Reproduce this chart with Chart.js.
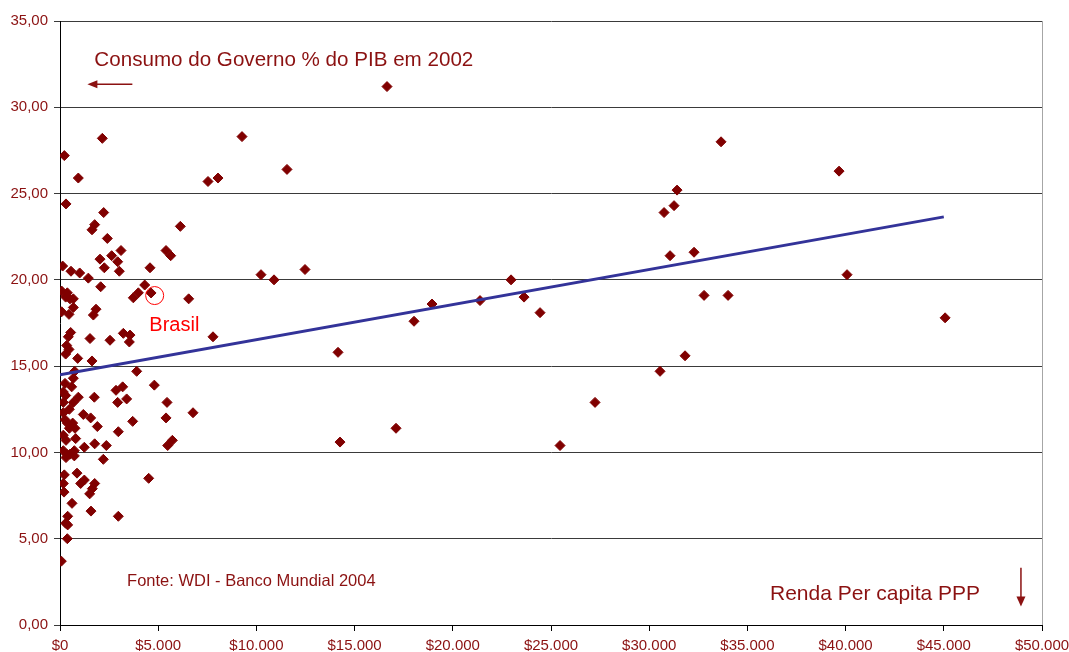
<!DOCTYPE html>
<html>
<head>
<meta charset="utf-8">
<script src="https://cdn.jsdelivr.net/npm/chart.js@4.4.0/dist/chart.umd.min.js"></script>
<style>
  html, body { margin: 0; padding: 0; background: #ffffff; overflow: hidden; }
  #wrap { width: 1069px; height: 652px; }
</style>
</head>
<body>
<div id="wrap"><canvas id="grafico" width="1069" height="652"></canvas></div>
<script>
// Renda per capita (PPP, US$) e consumo do governo (% do PIB), 2002
const rendaPerCapita = [
  220, 2155, 933, 305, 2224, 1766, 1630, 6127, 2410, 3106,
  2630, 5398, 5636, 2037, 2936, 2257, 3021, 4583, 135, 560,
  1002, 1443, 2071, 4313, 3989, 3733, 4637, 6552, 85, 373, 288,
  509, 679, 85, 458, 679, 1833, 1698, 7790, 3225, 3564,
  3530, 2546, 1528, 543, 424, 340, 458, 288, 900, 1630,
  3904, 747, 679, 255, 594, 4803, 2852, 3191, 170, 933,
  1748, 2936, 3394, 5449, 288, 170, 679, 475, 170, 1188,
  1561, 3700, 5398, 6772, 255, 373, 645, 475, 764, 1901,
  2970, 170, 305, 798, 1765, 2359, 1239, 5483, 5721, 170,
  340, 730, 509, 305, 730, 2206, 220, 866, 1239, 1052,
  1766, 1646, 1510, 170, 204, 4515, 611, 1578, 2970, 390,
  288, 390, 373, 68,
  9267, 11558, 7536, 8045, 10235, 10897, 12475, 14156, 14258, 17109,
  25460, 27242, 18026, 18942, 21386, 22965, 23627, 24442, 16650,
  33658, 39667, 31418, 31265, 30756, 32283, 31062, 40073, 32793, 34015,
  31825, 30552, 45066
];
const consumoGoverno = [
  27.2, 28.2, 25.9, 24.4, 23.9, 23.2, 22.9, 23.1, 22.4, 21.7,
  21.4, 21.7, 21.4, 21.2, 21.05, 20.7, 20.5, 20.7, 20.8, 20.5,
  20.4, 20.1, 19.6, 19.7, 19.25, 18.96, 19.24, 18.9, 19.35, 19.25, 19.0,
  18.9, 18.9, 18.15, 18.0, 18.4, 18.3, 17.96, 16.7, 16.9, 16.8,
  16.4, 16.5, 16.6, 16.95, 16.7, 16.2, 15.97, 15.7, 15.45, 15.3,
  14.7, 14.7, 14.3, 14.0, 13.8, 13.9, 13.6, 13.8, 13.5, 13.2,
  13.2, 12.9, 13.1, 12.9, 13.3, 12.9, 12.9, 12.5, 12.3, 12.2,
  12.0, 11.8, 12.0, 12.3, 11.9, 11.7, 11.7, 11.4, 11.4, 11.5,
  11.2, 11.0, 10.7, 10.8, 10.5, 10.4, 10.3, 10.4, 10.7, 10.1,
  9.9, 10.1, 9.9, 9.7, 9.8, 9.6, 8.7, 8.8, 8.4, 8.2,
  8.2, 7.9, 7.6, 8.2, 7.7, 8.5, 7.05, 6.6, 6.3, 6.3,
  5.9, 5.8, 5.0, 3.7,
  28.3, 26.4, 25.7, 25.9, 20.3, 20.0, 20.6, 15.8, 10.6, 11.4,
  10.4, 12.9, 17.6, 18.6, 18.8, 20.0, 19.0, 18.1, 31.2,
  28.0, 26.3, 25.2, 24.3, 23.9, 21.6, 21.4, 20.3, 19.1, 19.1,
  15.6, 14.7, 17.8
];

// Brasil (destaque)
const brasilRenda = [4820];
const brasilConsumo = [19.09];

// Linha de tendência linear
const tendenciaRenda = [0, 45000];
const tendenciaConsumo = [14.5, 23.65];

// Rótulos dos eixos
const xTickLabels = ['$0', '$5.000', '$10.000', '$15.000', '$20.000', '$25.000',
                     '$30.000', '$35.000', '$40.000', '$45.000', '$50.000'];
const yTickLabels = ['0,00', '5,00', '10,00', '15,00', '20,00', '25,00', '30,00', '35,00'];

const corTexto = '#8b1111';
const corPonto = '#800000';
const fonte = '"Liberation Sans", Arial, sans-serif';

const pontos = rendaPerCapita.map((x, i) => ({ x, y: consumoGoverno[i] }));
const brasil = brasilRenda.map((x, i) => ({ x, y: brasilConsumo[i] }));
const tendencia = tendenciaRenda.map((x, i) => ({ x, y: tendenciaConsumo[i] }));

// Textos, setas e moldura direita
const anotacoes = {
  id: 'anotacoes',
  afterDraw(chart) {
    const { ctx, chartArea, scales } = chart;
    const px = v => scales.x.getPixelForValue(v);
    const py = v => scales.y.getPixelForValue(v);
    ctx.save();

    // moldura à direita da área do gráfico
    ctx.strokeStyle = '#a6a6a6';
    ctx.lineWidth = 1;
    ctx.beginPath();
    ctx.moveTo(Math.round(chartArea.right) + 0.5, chartArea.top);
    ctx.lineTo(Math.round(chartArea.right) + 0.5, chartArea.bottom);
    ctx.stroke();

    ctx.fillStyle = corTexto;
    ctx.textBaseline = 'alphabetic';
    ctx.textAlign = 'left';

    ctx.font = '20.6px ' + fonte;
    ctx.fillText('Consumo do Governo % do PIB em 2002', px(1750), py(32.39));

    ctx.font = '16.5px ' + fonte;
    ctx.fillText('Fonte: WDI - Banco Mundial 2004', px(3415), py(2.235));

    ctx.font = '21px ' + fonte;
    ctx.fillText('Renda Per capita PPP', px(36150), py(1.465));

    ctx.fillStyle = '#ff0000';
    ctx.font = '20px ' + fonte;
    ctx.fillText('Brasil', px(4550), py(17.04));

    // seta para a esquerda (eixo vertical)
    ctx.strokeStyle = corTexto;
    ctx.fillStyle = corTexto;
    ctx.lineWidth = 1.5;
    const ay = py(31.33);
    const ax0 = px(3684), ax1 = px(1394);
    ctx.beginPath();
    ctx.moveTo(ax0, ay);
    ctx.lineTo(ax1 + 8, ay);
    ctx.stroke();
    ctx.beginPath();
    ctx.moveTo(ax1, ay);
    ctx.lineTo(ax1 + 10, ay - 4);
    ctx.lineTo(ax1 + 10, ay + 4);
    ctx.closePath();
    ctx.fill();

    // seta para baixo (eixo horizontal)
    const bx = px(48928);
    const by0 = py(3.318), by1 = py(1.077);
    ctx.beginPath();
    ctx.moveTo(bx, by0);
    ctx.lineTo(bx, by1 - 8);
    ctx.stroke();
    ctx.beginPath();
    ctx.moveTo(bx, by1);
    ctx.lineTo(bx - 4.5, by1 - 10);
    ctx.lineTo(bx + 4.5, by1 - 10);
    ctx.closePath();
    ctx.fill();

    ctx.restore();
  }
};

new Chart(document.getElementById('grafico'), {
  type: 'scatter',
  data: {
    datasets: [
      {
        label: 'Tendência',
        data: tendencia,
        showLine: true,
        borderColor: '#333399',
        borderWidth: 3,
        pointRadius: 0,
        fill: false,
        order: 0
      },
      {
        label: 'Brasil',
        data: brasil,
        pointStyle: 'circle',
        pointRadius: 9,
        backgroundColor: 'rgba(0,0,0,0)',
        borderColor: '#ff0000',
        borderWidth: 1,
        order: 1
      },
      {
        label: 'Países',
        data: pontos,
        pointStyle: 'rectRot',
        pointRadius: 5,
        backgroundColor: corPonto,
        borderColor: corPonto,
        borderWidth: 1,
        order: 2
      }
    ]
  },
  options: {
    responsive: false,
    animation: false,
    events: [],
    layout: { padding: { top: 21, right: 27, left: 0, bottom: 0 } },
    plugins: { legend: { display: false }, tooltip: { enabled: false } },
    scales: {
      x: {
        type: 'linear',
        min: 0,
        max: 50000,
        afterFit: s => { s.height = 27; s.paddingRight = 0; s.paddingLeft = 0; },
        afterBuildTicks: s => { s.ticks = xTickLabels.map((_, i) => ({ value: i * 5000 })); },
        ticks: {
          callback: (v, i) => xTickLabels[i],
          color: corTexto,
          font: { family: fonte, size: 15 },
          padding: 6,
          maxRotation: 0,
          autoSkip: false
        },
        grid: { drawOnChartArea: false, drawTicks: true, tickLength: 6, color: '#000000' },
        border: { color: '#000000', width: 1 }
      },
      y: {
        type: 'linear',
        min: 0,
        max: 35,
        afterFit: s => { s.width = 60; s.paddingTop = 0; s.paddingBottom = 0; },
        afterBuildTicks: s => { s.ticks = yTickLabels.map((_, i) => ({ value: i * 5 })); },
        ticks: {
          callback: (v, i) => yTickLabels[i],
          color: corTexto,
          font: { family: fonte, size: 15 },
          padding: 6
        },
        grid: { color: '#3a3a3a', lineWidth: 1, drawTicks: true, tickLength: 6 },
        border: { color: '#000000', width: 1 }
      }
    }
  },
  plugins: [anotacoes]
});
</script>
</body>
</html>
